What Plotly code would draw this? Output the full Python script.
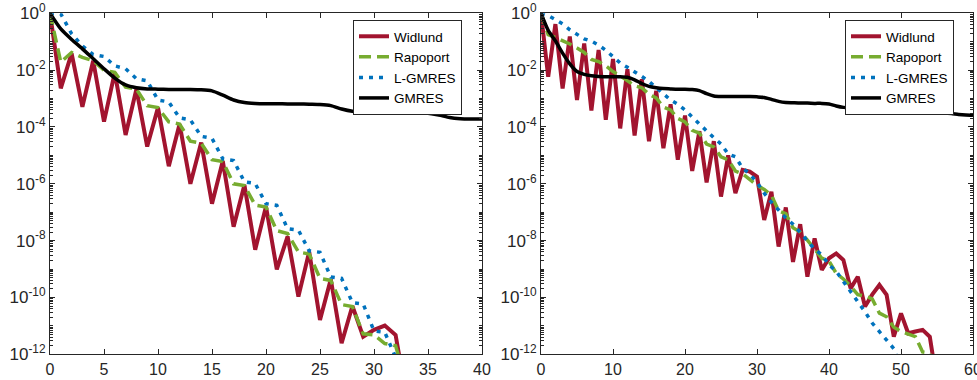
import plotly.graph_objects as go

# ---------------- data (log10 of residual) ----------------
iters_left_short = list(range(0, 34))
iters_left_long = list(range(0, 41))
iters_right_red = list(range(0, 56))
iters_right_green = list(range(0, 56))
iters_right_blue = list(range(0, 51))
iters_right_black = list(range(0, 61))

widlund_left_log = [0, -2.64, -1.41, -3.29, -1.67, -3.81, -2.08, -4.28, -2.67, -4.69,
                    -3.32, -5.38, -3.90, -6.00, -4.55, -6.70, -5.20, -7.51, -6.04, -8.32,
                    -6.80, -9.01, -7.85, -9.97, -8.39, -10.79, -9.36, -11.61, -10.30, -11.38,
                    -11.14, -10.99, -11.32, -13.5]
rapoport_left_log = [0, -1.72, -1.38, -1.55, -1.67, -2.00, -2.08, -2.60, -2.67, -3.25,
                     -3.32, -3.82, -3.90, -4.50, -4.57, -5.15, -5.22, -6.00, -6.06, -6.75,
                     -6.82, -7.65, -7.75, -8.40, -8.47, -9.33, -9.40, -10.25, -10.32, -11.28,
                     -11.32, -11.62, -11.70, -13.0]
lgmres_left_log = [0, -0.02, -0.72, -1.15, -1.45, -1.52, -1.85, -1.95, -2.30, -2.38,
                   -3.05, -3.12, -3.68, -3.75, -4.33, -4.40, -5.12, -5.18, -5.93, -5.99,
                   -6.70, -6.76, -7.58, -7.63, -8.36, -8.41, -9.28, -9.33, -10.18, -10.23,
                   -11.18, -11.23, -12.1, -13.0]
gmres_left_log = [0, -0.55, -0.92, -1.25, -1.60, -1.95, -2.28, -2.52, -2.62, -2.66,
                  -2.67, -2.68, -2.68, -2.68, -2.69, -2.73, -2.88, -3.05, -3.14, -3.17,
                  -3.18, -3.18, -3.19, -3.19, -3.20, -3.21, -3.25, -3.37, -3.45, -3.48,
                  -3.49, -3.49, -3.50, -3.50, -3.50, -3.52, -3.58, -3.67, -3.71, -3.72,
                  -3.72]

widlund_right_log = [0, -2.23, -0.38, -2.65, -0.82, -3.05, -1.06, -3.42, -1.29, -3.75,
                     -1.61, -4.05, -1.97, -4.30, -2.32, -4.50, -2.73, -4.75, -3.20, -5.15,
                     -3.60, -5.55, -4.15, -5.95, -4.50, -6.45, -5.00, -6.33, -5.51, -5.57,
                     -5.75, -7.27, -6.28, -8.21, -6.83, -8.75, -7.42, -9.27, -7.92, -9.03,
                     -8.62, -8.45, -8.68, -9.68, -9.27, -10.32, -9.90, -9.56, -9.91, -11.38,
                     -10.56, -11.26, -11.20, -11.14, -11.38, -13.0]
rapoport_right_log = [0, -0.75, -0.85, -0.95, -1.08, -1.22, -1.38, -1.62, -1.70, -1.85,
                      -2.05, -2.20, -2.38, -2.55, -2.62, -2.85, -2.98, -3.30, -3.40, -3.70,
                      -3.82, -4.12, -4.22, -4.60, -4.70, -5.05, -5.15, -5.55, -5.65, -5.85,
                      -6.05, -6.20, -6.40, -6.95, -7.05, -7.55, -7.70, -7.98, -8.30, -8.62,
                      -8.72, -9.15, -9.35, -9.60, -9.90, -9.95, -10.05, -10.55, -10.68, -11.05,
                      -11.20, -11.28, -11.38, -11.92, -11.96, -13.0]
lgmres_right_log = [0, -0.08, -0.22, -0.37, -0.58, -0.73, -0.90, -0.98, -1.12, -1.30,
                    -1.52, -1.75, -1.90, -2.05, -2.22, -2.40, -2.62, -2.85, -3.05, -3.20,
                    -3.40, -3.65, -3.90, -4.15, -4.38, -4.60, -4.95, -5.05, -5.45, -5.65,
                    -5.95, -6.33, -6.65, -6.92, -7.20, -7.42, -7.72, -8.00, -8.30, -8.50,
                    -8.85, -9.08, -9.45, -9.78, -10.15, -10.50, -10.90, -11.20, -11.50, -11.80,
                    -12.5]
gmres_right_log = [0, -0.60, -0.97, -1.40, -1.78, -2.05, -2.15, -2.20, -2.22, -2.23,
                   -2.23, -2.23, -2.25, -2.34, -2.47, -2.57, -2.62, -2.65, -2.66, -2.67,
                   -2.67, -2.68, -2.72, -2.83, -2.91, -2.93, -2.93, -2.93, -2.93, -2.93,
                   -2.94, -2.96, -3.03, -3.10, -3.14, -3.15, -3.16, -3.16, -3.17, -3.17,
                   -3.19, -3.26, -3.31, -3.33, -3.34, -3.34, -3.34, -3.35, -3.36, -3.38,
                   -3.42, -3.46, -3.48, -3.49, -3.50, -3.50, -3.51, -3.53, -3.56, -3.58,
                   -3.59]

series_names = ["Widlund", "Rapoport", "L-GMRES", "GMRES"]
y_tick_exponents = [0, -2, -4, -6, -8, -10, -12]
y_tick_labels = ["10<sup>0</sup>", "10<sup>-2</sup>", "10<sup>-4</sup>", "10<sup>-6</sup>",
                 "10<sup>-8</sup>", "10<sup>-10</sup>", "10<sup>-12</sup>"]


def lin(vals):
    return [10.0 ** v for v in vals]


# ---------------- styling ----------------
RED = "#A2142F"
GREEN = "#77AC30"
BLUE = "#0072BD"
BLACK = "#000000"
AX = "#262626"
FONT = "Liberation Sans, Arial, Helvetica, sans-serif"

styles = {
    "Widlund": dict(color=RED, width=4, dash="solid"),
    "Rapoport": dict(color=GREEN, width=3.5, dash="12px,6px"),
    "L-GMRES": dict(color=BLUE, width=3.5, dash="4px,6px"),
    "GMRES": dict(color=BLACK, width=3.5, dash="solid"),
}

fig = go.Figure()

left = [
    (iters_left_short, widlund_left_log),
    (iters_left_short, rapoport_left_log),
    (iters_left_short, lgmres_left_log),
    (iters_left_long, gmres_left_log),
]
right = [
    (iters_right_red, widlund_right_log),
    (iters_right_green, rapoport_right_log),
    (iters_right_blue, lgmres_right_log),
    (iters_right_black, gmres_right_log),
]

for name, (xs, ys) in zip(series_names, left):
    st = styles[name]
    fig.add_trace(go.Scatter(
        x=xs, y=lin(ys), mode="lines", name=name,
        line=dict(color=st["color"], width=st["width"], dash=st["dash"],
                  shape="spline" if name == "GMRES" else "linear", smoothing=0.6),
        xaxis="x", yaxis="y", legend="legend"))

for name, (xs, ys) in zip(series_names, right):
    st = styles[name]
    fig.add_trace(go.Scatter(
        x=xs, y=lin(ys), mode="lines", name=name,
        line=dict(color=st["color"], width=st["width"], dash=st["dash"],
                  shape="spline" if name == "GMRES" else "linear", smoothing=0.6),
        xaxis="x2", yaxis="y2", legend="legend2"))

W, H = 977, 380
minor_vals = []
for e in range(-12, 0):
    for m in range(1, 10):
        minor_vals.append(m * 10.0 ** e)

common_x = dict(ticks="inside", ticklen=5, tickwidth=1, tickcolor=AX,
                showline=True, linecolor=AX, linewidth=1, mirror="ticks",
                showgrid=False, zeroline=False, automargin=False,
                ticklabeloverflow="allow",
                tickfont=dict(size=16, color=AX, family=FONT), tick0=0)
common_y = dict(type="log", range=[-12, 0], tickmode="array",
                tickvals=lin(y_tick_exponents), ticktext=y_tick_labels,
                ticks="inside", ticklen=5, tickwidth=1, tickcolor=AX,
                minor=dict(tickmode="array", tickvals=minor_vals, ticks="inside",
                           ticklen=3, tickwidth=1, tickcolor=AX, showgrid=False),
                showline=True, linecolor=AX, linewidth=1, mirror="ticks",
                showgrid=False, zeroline=False, automargin=False,
                tickfont=dict(size=17, color=AX, family=FONT),
                domain=[1 - 354.3 / H, 1 - 13.3 / H])

legend_common = dict(xanchor="left", yanchor="top", bgcolor="white",
                     bordercolor=AX, borderwidth=1,
                     font=dict(size=13.5, color="#000000", family=FONT),
                     tracegroupgap=0, itemwidth=30)

fig.update_layout(
    width=W, height=H,
    margin=dict(l=0, r=0, t=0, b=0),
    paper_bgcolor="white", plot_bgcolor="white",
    font=dict(family=FONT, color=AX),
    showlegend=True,
    xaxis=dict(common_x, domain=[50 / W, 482 / W], range=[0, 40], dtick=5, anchor="y"),
    yaxis=dict(common_y, anchor="x"),
    xaxis2=dict(common_x, domain=[541 / W, 973 / W], range=[0, 60], dtick=10, anchor="y2"),
    yaxis2=dict(common_y, anchor="x2"),
    legend=dict(legend_common, x=353 / W, y=1 - 20 / H),
    legend2=dict(legend_common, x=845 / W, y=1 - 20 / H),
)

fig.write_html("out.html", config={"displayModeBar": False},
               post_script="document.body.style.margin='0';document.body.style.overflow='hidden';")
